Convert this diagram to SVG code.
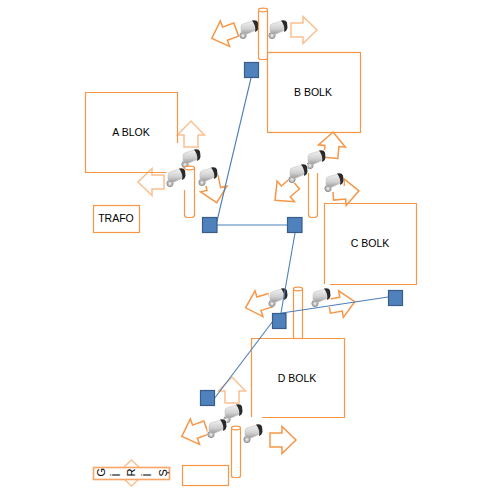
<svg xmlns="http://www.w3.org/2000/svg" width="500" height="504" viewBox="0 0 500 504">
<style>
.o{fill:none;stroke:#f79646;stroke-width:1.2}
.a{fill:#fff;stroke:#f79646;stroke-width:1.5}
.al{fill:#fff;stroke:#fac090;stroke-width:1.5}
.p{fill:#fff;stroke:#f79646;stroke-width:1.2}
.q{fill:#4f81bd;stroke:#385d8a;stroke-width:1.2}
.l{stroke:#4a7ebb;stroke-width:1.1;fill:none}
text{font-family:"Liberation Sans",Arial,sans-serif;font-size:10.5px;fill:#000;text-anchor:middle}
.g{font-size:11px;text-anchor:start}
</style>
<defs>
<linearGradient id="b" x1="0" y1="0" x2="0" y2="1"><stop offset="0" stop-color="#f2f2f2"/><stop offset="0.6" stop-color="#d0d0d0"/><stop offset="1" stop-color="#9c9c9c"/></linearGradient>
<polygon id="ar" points="-13,-7 -1,-7 -1,-13.500 13,0 -1,13.500 -1,7 -13,7"/>
<g id="cam">
<rect x="-9.500" y="-9" width="19" height="19" fill="#fff"/>
<path d="M-4 3L-6 7" stroke="#a8a8a8" stroke-width="4"/>
<circle cx="-6" cy="6.500" r="3.200" fill="#b8b8b8" stroke="#8a8a8a" stroke-width="0.8"/>
<circle cx="-6" cy="6.500" r="1.300" fill="#e8e8e8"/>
<path d="M-8-2Q-8-5-5-5.500L4-8L7 1L-2 5Q-8 6-8 2Z" fill="url(#b)" stroke="#c4c4c4" stroke-width="0.6"/>
<path d="M3-8.500Q8-9.500 9-6.500L9.500-1.500Q9 2 6 3Q7.500-3 3-8.500Z" fill="#2a2a2a"/>
</g>
</defs>
<g id="arrows">
<use href="#ar" class="a" transform="translate(224 34) rotate(160)"/>
<use href="#ar" class="al" transform="translate(304 30)"/>
<use href="#ar" class="al" transform="translate(191 134) rotate(-90)"/>
<use href="#ar" class="al" transform="translate(151 182) rotate(180)"/>
<use href="#ar" class="a" transform="translate(214 190) rotate(78)"/>
<use href="#ar" class="a" transform="translate(332 145) rotate(-85)"/>
<use href="#ar" class="a" transform="translate(285 192) rotate(140)"/>
<use href="#ar" class="a" transform="translate(346 192) rotate(-5)"/>
<use href="#ar" class="a" transform="translate(258 304) rotate(163)"/>
<use href="#ar" class="a" transform="translate(342 304) rotate(-10)"/>
<use href="#ar" class="al" transform="translate(232 390) rotate(-90)"/>
<use href="#ar" class="a" transform="translate(194 432) rotate(160)"/>
<use href="#ar" class="a" transform="translate(283 440)"/>
</g>
<g id="a-blok"><path class="o" d="M177.500 143V92.500H85.500V172.500H167"/><text x="131" y="136">A BLOK</text></g>
<g id="b-bolk"><rect class="o" x="267.500" y="52.500" width="93" height="80"/><text x="313" y="96">B BOLK</text></g>
<g id="c-bolk"><path class="o" d="M324.500 284V203.500H416.500V284.500H330"/><text x="370" y="247">C BOLK</text></g>
<g id="d-bolk"><path class="o" d="M251.500 417V338.500H344.500V417.500H262"/><text x="297" y="382">D BOLK</text></g>
<g id="trafo"><rect class="o" x="93.500" y="205.500" width="46" height="27"/><text x="116" y="222">TRAFO</text></g>
<g id="cameras">
<use href="#cam" x="249" y="29"/><use href="#cam" x="278" y="29"/>
<use href="#cam" x="191" y="158"/><use href="#cam" x="176" y="177"/><use href="#cam" x="208" y="176"/>
<use href="#cam" x="316" y="159"/><use href="#cam" x="298" y="173"/><use href="#cam" x="334" y="182"/>
<use href="#cam" x="278" y="297"/><use href="#cam" x="321" y="297"/>
<use href="#cam" x="233" y="413"/><use href="#cam" x="217" y="428"/><use href="#cam" x="253" y="433"/>
</g>
<g id="poles">
<g id="pole-b"><rect class="p" x="258.500" y="9.500" width="9" height="50" rx="2"/><ellipse class="p" cx="263" cy="10" rx="4.500" ry="1.800"/></g>
<g id="pole-a"><path class="o" d="M184.500 190V214.500Q184.500 217.500 187.500 217.500H191.500Q194.500 217.500 194.500 214.500V168"/><ellipse class="p" cx="189.500" cy="168" rx="5" ry="1.800"/></g>
<g id="pole-c"><path class="o" d="M308.500 173V214.500Q308.500 217.500 311.500 217.500H314.500Q317.500 217.500 317.500 214.500V173"/></g>
<g id="pole-d"><rect class="p" x="293.500" y="288.500" width="9" height="50"/><ellipse class="p" cx="298" cy="289" rx="4.500" ry="1.800"/></g>
<g id="pole-e"><rect class="p" x="231.500" y="427.500" width="9" height="50" rx="2"/><ellipse class="p" cx="236" cy="428" rx="4.500" ry="1.800"/></g>
</g>
<g id="connectors">
<path class="l" d="M251 78L217 221"/>
<path class="l" d="M217 225H287"/>
<path class="l" d="M295 233L281 313"/>
<path class="l" d="M282 313L388 297"/>
<path class="l" d="M273 321L214 399"/>
</g>
<g id="squares">
<rect class="q" x="244.500" y="62.500" width="14" height="15"/>
<rect class="q" x="202.500" y="217.500" width="14.500" height="15"/>
<rect class="q" x="287.500" y="217.500" width="14.500" height="15"/>
<rect class="q" x="272.500" y="313.500" width="13.500" height="15"/>
<rect class="q" x="388.500" y="290.500" width="14" height="15"/>
<rect class="q" x="200.500" y="390.500" width="14" height="15"/>
</g>
<g id="giris">
<polygon class="al" points="131.500,460 139,467 139,479 131.500,486 124,479 124,467"/>
<rect x="93.500" y="467.500" width="76" height="12" fill="#fff" stroke="#f9a566" stroke-width="1.600"/>
<text class="g" transform="translate(105 476.500) rotate(-90)">G</text>
<text class="g" transform="translate(120 476.500) rotate(-90)">İ</text>
<text class="g" transform="translate(135 476.500) rotate(-90)">R</text>
<text class="g" transform="translate(151 476.500) rotate(-90)">İ</text>
<text class="g" transform="translate(167 476.500) rotate(-90)">Ş</text>
</g>
<g id="empty-box"><rect class="o" x="182.500" y="465.500" width="46" height="20"/></g>
</svg>
